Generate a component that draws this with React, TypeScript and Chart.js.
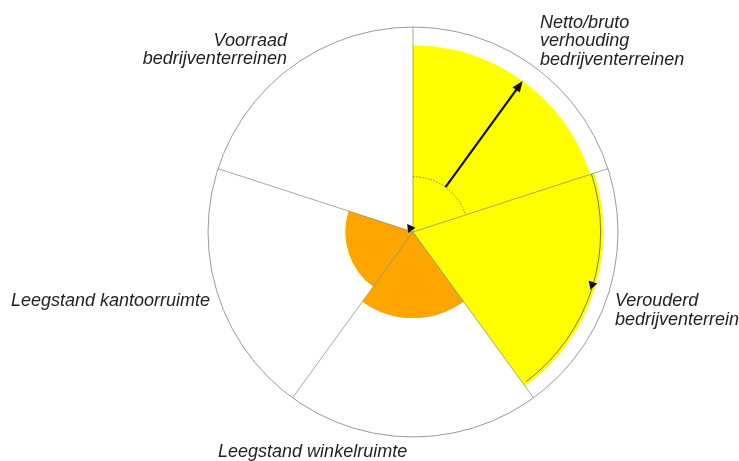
import React, { useEffect, useRef } from "react";
import { Chart, registerables } from "chart.js";

Chart.register(...registerables);

// ---- data ----
const categories: string[][] = [
  ["Netto/bruto", "verhouding", "bedrijventerreinen"],
  ["Verouderd", "bedrijventerrein"],
  ["Leegstand winkelruimte"],
  ["Leegstand kantoorruimte"],
  ["Voorraad", "bedrijventerreinen"],
];
const values: number[] = [0.91, 0.93, 0.42, 0.33, 0];
const fillColors: string[] = ["#ffff00", "#ffff00", "#ffa500", "#ffa500", "#ffffff"];
const scaleMin = 0;
const scaleMax = 1;
const innerArcValue = 0.27;

// ---- label placement (offsets from the centre in units of the radius, first baseline) ----
const labelLayout = [
  { dx: 0.62, dy: -0.995, align: "left" },
  { dx: 0.985, dy: 0.363, align: "left" },
  { dx: -0.951, dy: 1.098, align: "left" },
  { dx: -0.99, dy: 0.363, align: "right" },
  { dx: -0.615, dy: -0.907, align: "right" },
];

const LABEL_FONT = "italic 18px 'Liberation Sans', Arial, sans-serif";
const LINE_GAP = 18.4;

const overlay = {
  id: "overlay",
  afterDraw(chart: any) {
    const s = chart.scales.r;
    const ctx: CanvasRenderingContext2D = chart.ctx;
    const cx = s.xCenter;
    const cy = s.yCenter;
    const R = s.drawingArea;
    const n = values.length;
    const seg = 360 / n;
    const rad = (deg: number) => (deg * Math.PI) / 180 - Math.PI / 2;
    const pt = (deg: number, d: number) => ({
      x: cx + d * Math.cos(rad(deg)),
      y: cy + d * Math.sin(rad(deg)),
    });
    const head = (tip: { x: number; y: number }, dir: number, len: number, hw: number) => {
      const bx = tip.x - len * Math.cos(dir);
      const by = tip.y - len * Math.sin(dir);
      const px = -Math.sin(dir);
      const py = Math.cos(dir);
      ctx.beginPath();
      ctx.moveTo(tip.x, tip.y);
      ctx.lineTo(bx + hw * px, by + hw * py);
      ctx.lineTo(bx - hw * px, by - hw * py);
      ctx.closePath();
      ctx.fill();
    };

    ctx.save();
    // segment 1: dotted inner arc + radial arrow
    const innerD = s.getDistanceFromCenterForValue(innerArcValue);
    ctx.setLineDash([1.5, 1.5]);
    ctx.strokeStyle = "#666";
    ctx.lineWidth = 0.8;
    ctx.beginPath();
    ctx.arc(cx, cy, innerD, rad(0), rad(seg));
    ctx.stroke();
    ctx.setLineDash([]);

    const a0 = seg / 2;
    const d0 = s.getDistanceFromCenterForValue(values[0]);
    const p1 = pt(a0, innerD);
    const p2 = pt(a0, d0 - 9);
    ctx.strokeStyle = "#111";
    ctx.fillStyle = "#111";
    ctx.lineWidth = 2.2;
    ctx.beginPath();
    ctx.moveTo(p1.x, p1.y);
    ctx.lineTo(p2.x, p2.y);
    ctx.stroke();
    head(pt(a0, d0), rad(a0), 11, 4.5);

    // segment 2: arc along the outer edge with tangential arrowhead
    const d1 = s.getDistanceFromCenterForValue(values[1]) - 3;
    ctx.strokeStyle = "#6b6b30";
    ctx.lineWidth = 0.9;
    ctx.beginPath();
    ctx.arc(cx, cy, d1, rad(seg), rad(2 * seg) - 0.02);
    ctx.stroke();
    ctx.fillStyle = "#111";
    const a1 = seg * 1.5;
    head(pt(a1, d1 - 1), rad(a1) + Math.PI / 2, 8, 4.5);

    // segment 5: arrowhead at the centre
    const a4 = seg * 4.5;
    head(pt(a4, 10), rad(a4), 8, 4.5);

    // labels
    ctx.font = LABEL_FONT;
    ctx.fillStyle = "#222";
    ctx.textBaseline = "alphabetic";
    categories.forEach((lines, i) => {
      const L = labelLayout[i];
      ctx.textAlign = L.align as CanvasTextAlign;
      lines.forEach((line, j) => {
        ctx.fillText(line, cx + L.dx * R, cy + L.dy * R + j * LINE_GAP);
      });
    });
    ctx.restore();
  },
};

export default function App() {
  const ref = useRef<HTMLCanvasElement | null>(null);
  useEffect(() => {
    if (!ref.current) return;
    const chart = new Chart(ref.current, {
      type: "polarArea",
      data: {
        labels: categories.map((c) => c.join(" ")),
        datasets: [
          {
            data: values,
            backgroundColor: fillColors,
            borderWidth: 0,
          },
        ],
      },
      options: {
        animation: false,
        responsive: false,
        layout: { padding: { left: 208, right: 120, top: 27, bottom: 23 } },
        plugins: { legend: { display: false }, tooltip: { enabled: false } },
        scales: {
          r: {
            min: scaleMin,
            max: scaleMax,
            startAngle: 0,
            ticks: { display: false, stepSize: 1 },
            grid: { z: 1, color: "#9a9a9a", lineWidth: 1 },
            angleLines: { display: true, color: "rgba(130,130,130,0.7)", lineWidth: 1 },
            pointLabels: { display: false },
          },
        },
      },
      plugins: [overlay],
    } as any);
    return () => chart.destroy();
  }, []);
  return (
    <div style={{ position: "absolute", left: 0, top: 0, width: 739, height: 461, background: "#fff" }}>
      <canvas ref={ref} width={739} height={461} style={{ display: "block" }} />
    </div>
  );
}
